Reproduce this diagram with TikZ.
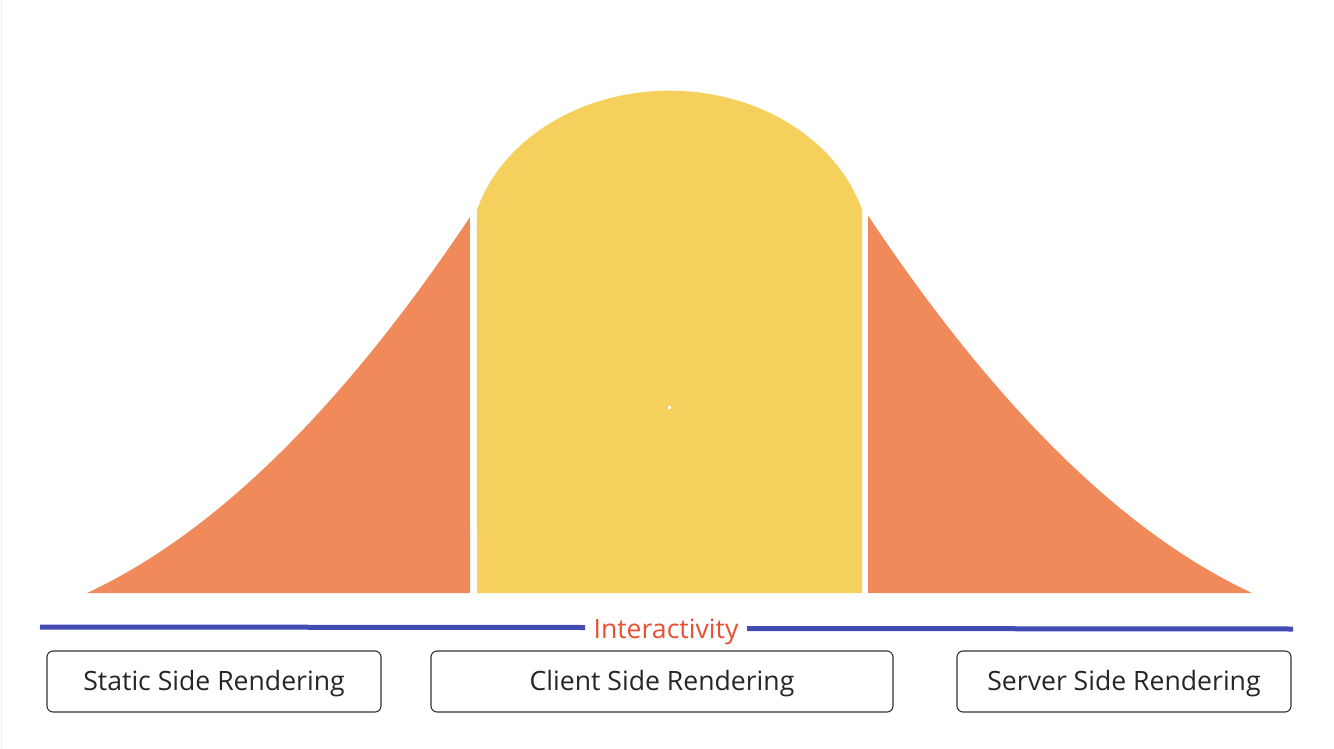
\documentclass[tikz,border=0pt]{standalone}
\usepackage{fontspec}
\setmainfont{Open Sans}
\definecolor{tailorange}{RGB}{240,138,90}
\definecolor{domeyellow}{RGB}{246,208,92}
\definecolor{axisblue}{RGB}{66,76,178}
\definecolor{labelred}{RGB}{232,80,50}
\definecolor{edgegray}{RGB}{238,238,238}
\begin{document}
\begin{tikzpicture}[x=1pt,y=-1pt,
  modebox/.style={draw=black!80,line width=1.1pt,rounded corners=6pt,inner sep=0pt,
    text height=21pt,text depth=4pt,font=\fontsize{26.6}{30}\selectfont,text=black!85},
  axislabel/.style={text height=21pt,text depth=0pt,font=\fontsize{26.6}{30}\selectfont,text=labelred},
  axisline/.style={draw=axisblue,line width=5pt}]
\useasboundingbox (0,0) rectangle (1334,749);
\fill[white] (0,0) rectangle (1334,749);
\draw[edgegray,line width=1pt] (1,0) -- (1,749);
% tails: height above the baseline (y=593) as a function of distance (in hundreds of px) from the outer end
\def\tail#1{593-(46.5*(#1)+13.49*(#1)*(#1))}
\fill[tailorange] (87,593) -- plot[domain=0:3.83,samples=60] ({87+100*\x},{\tail{\x}}) -- (470,593) -- cycle;
\fill[tailorange] (1252,593) -- plot[domain=0:3.84,samples=60] ({1252-100*\x},{\tail{\x}}) -- (868,593) -- cycle;
% dome: elliptic cap
\fill[domeyellow] (477,593) -- plot[domain=163.8:16.2,samples=100,variable=\t] ({669.5+200.5*cos(\t)},{256-165.3*sin(\t)}) -- (862,593) -- cycle;
\fill[white] (668,406) rectangle (671,409);
% interactivity axis
\node[axislabel] (ax) at (666,628) {Interactivity};
\coordinate (axl) at (40,627);
\coordinate (axr) at (1293,629);
\draw[axisline] (axl) -- (585,627.5);
\draw[axisline] (747,628.5) -- (axr);
% rendering modes
\node[modebox,minimum width=334pt,minimum height=61pt] (ssg) at (214,681.5) {Static Side Rendering};
\node[modebox,minimum width=462pt,minimum height=61pt] (csr) at (662,681.5) {Client Side Rendering};
\node[modebox,minimum width=334pt,minimum height=61pt] (ssr) at (1124,681.5) {Server Side Rendering};
\end{tikzpicture}
\end{document}
